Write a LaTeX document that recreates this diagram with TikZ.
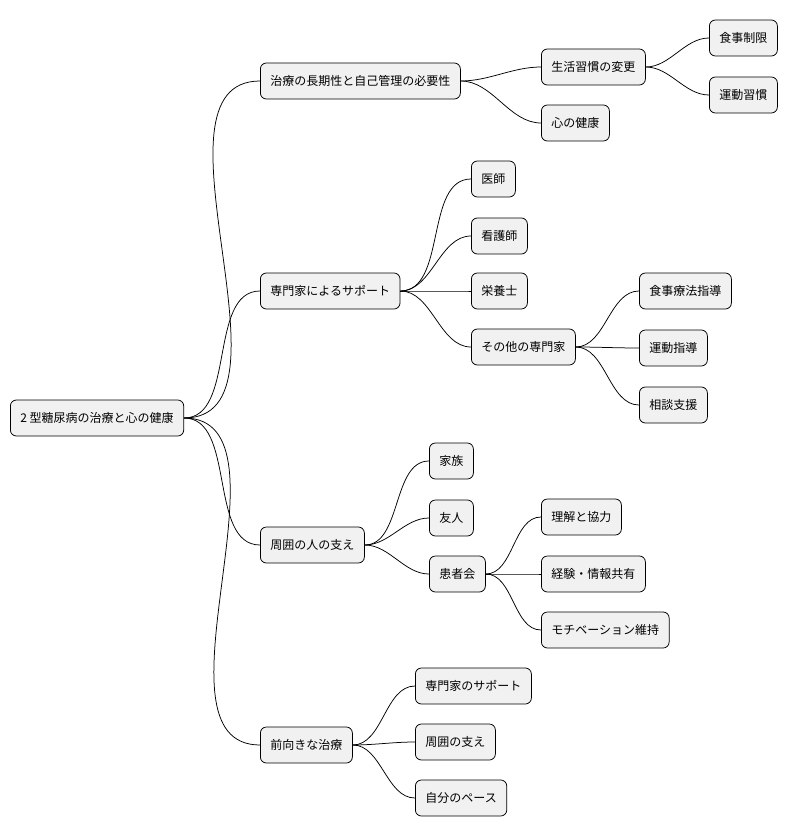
\documentclass[tikz,border=0pt]{standalone}
\usepackage{fontspec}
\setmainfont{Noto Sans CJK JP}
\tikzset{every picture/.style={line width=0.75pt}}
\tikzset{
  topic/.style={draw, rounded corners=6pt, fill={rgb,255:red,241;green,241;blue,241}, minimum height=36, inner xsep=10, anchor=west, font=\fontsize{12}{14}\selectfont},
  branch/.style={line width=0.6pt, out=0, in=180, looseness=0.9}
}
\begin{document}
\begin{tikzpicture}[x=1pt,y=1pt,yscale=-1,xscale=1]
\useasboundingbox (0,0) rectangle (796,837);

% Root
\node [topic] (root) at (10,418) {2 型糖尿病の治療と心の健康};

% Level 1
\node [topic] (chiryo) at (260,81) {治療の長期性と自己管理の必要性};
\node [topic] (senmon) at (260,291) {専門家によるサポート};
\node [topic] (shui) at (260,545) {周囲の人の支え};
\node [topic] (maemuki) at (260,745) {前向きな治療};

% Level 2
\node [topic] (seikatsu) at (541,67) {生活習慣の変更};
\node [topic] (kokoro) at (541,123) {心の健康};
\node [topic] (ishi) at (471,179) {医師};
\node [topic] (kango) at (471,236) {看護師};
\node [topic] (eiyo) at (471,291) {栄養士};
\node [topic] (sonota) at (471,347) {その他の専門家};
\node [topic] (kazoku) at (429,461) {家族};
\node [topic] (yujin) at (429,518) {友人};
\node [topic] (kanja) at (429,574) {患者会};
\node [topic] (sapo) at (415,686) {専門家のサポート};
\node [topic] (sasae) at (415,742) {周囲の支え};
\node [topic] (pace) at (415,798) {自分のペース};

% Level 3
\node [topic] (shokuji) at (709,38) {食事制限};
\node [topic] (undo) at (709,95) {運動習慣};
\node [topic] (ryoho) at (639,291) {食事療法指導};
\node [topic] (shido) at (639,348) {運動指導};
\node [topic] (sodan) at (639,405) {相談支援};
\node [topic] (rikai) at (541,517) {理解と協力};
\node [topic] (keiken) at (541,574) {経験・情報共有};
\node [topic] (motive) at (541,630) {モチベーション維持};

% Connectors
\foreach \c in {chiryo,senmon,shui,maemuki}
  \draw (root.east) to[branch] (\c.west);
\foreach \c in {seikatsu,kokoro}
  \draw (chiryo.east) to[branch] (\c.west);
\foreach \c in {shokuji,undo}
  \draw (seikatsu.east) to[branch] (\c.west);
\foreach \c in {ishi,kango,eiyo,sonota}
  \draw (senmon.east) to[branch] (\c.west);
\foreach \c in {ryoho,shido,sodan}
  \draw (sonota.east) to[branch] (\c.west);
\foreach \c in {kazoku,yujin,kanja}
  \draw (shui.east) to[branch] (\c.west);
\foreach \c in {rikai,keiken,motive}
  \draw (kanja.east) to[branch] (\c.west);
\foreach \c in {sapo,sasae,pace}
  \draw (maemuki.east) to[branch] (\c.west);
\end{tikzpicture}
\end{document}
